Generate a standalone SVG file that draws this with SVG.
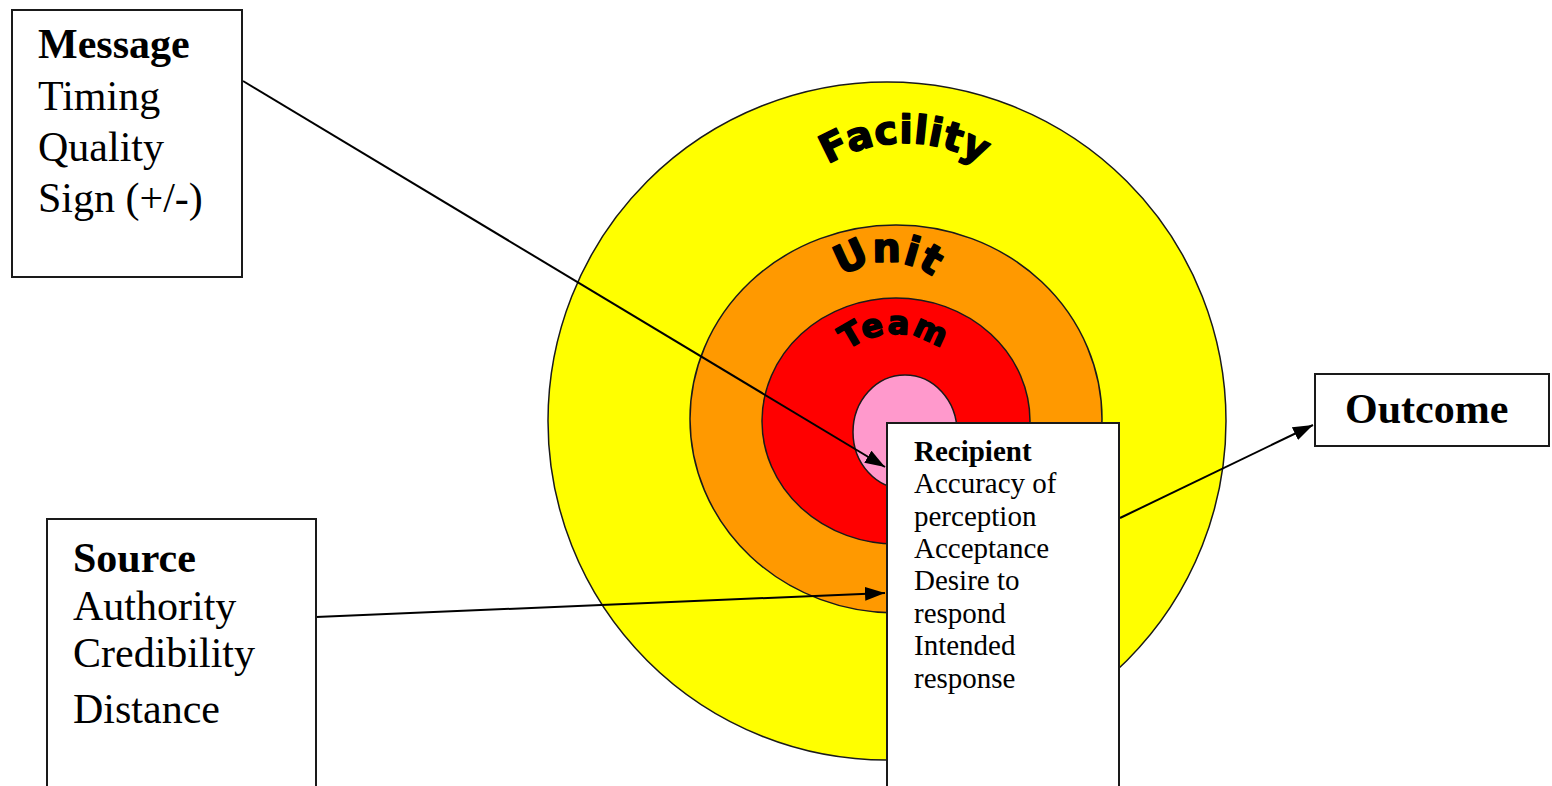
<svg xmlns="http://www.w3.org/2000/svg" width="1552" height="786" viewBox="0 0 1552 786">
  <style>
    .ring { stroke: #1a1a1a; stroke-width: 1.5; }
    .box { fill: #ffffff; stroke: #1a1a1a; stroke-width: 2; }
    .serif { font-family: "Liberation Serif", "Times New Roman", serif; fill: #000; }
    .big { font-size: 42px; }
    .small { font-size: 29px; }
    .bold { font-weight: bold; }
    .arc { font-family: "DejaVu Sans", "Liberation Sans", sans-serif; font-weight: bold; fill: #000; stroke: #000; stroke-width: 1.6; stroke-linejoin: round; }
    .conn { stroke: #000; stroke-width: 2; fill: none; }
  </style>
  <defs>
    <marker id="arrow" markerUnits="userSpaceOnUse" markerWidth="22" markerHeight="16" refX="20" refY="7" orient="auto">
      <path d="M0,0 L20,7 L0,14 z" fill="#000"/>
    </marker>
    <path id="arcFacility" d="M 790.1 196.6 A 150 150 0 0 1 1019.9 196.6"/>
    <path id="arcUnit" d="M 823 299.5 A 75 75 0 0 1 953 299.5"/>
    <path id="arcTeam" d="M 827.5 373 A 78 78 0 0 1 962.5 373"/>
  </defs>

  <rect width="1552" height="786" fill="#ffffff"/>

  <g id="levels">
    <circle class="ring" cx="887" cy="421" r="339" fill="#FFFF00"/>
    <ellipse class="ring" cx="896" cy="419" rx="206" ry="194" fill="#FF9900"/>
    <ellipse class="ring" cx="896" cy="421" rx="134" ry="123" fill="#FF0000"/>
    <ellipse class="ring" cx="905" cy="432" rx="52" ry="57" fill="#FF99CC"/>
    <text class="arc" font-size="39" letter-spacing="0.5"><textPath href="#arcFacility" startOffset="50%" text-anchor="middle">Facility</textPath></text>
    <text class="arc" font-size="40" letter-spacing="1"><textPath href="#arcUnit" startOffset="50%" text-anchor="middle">Unit</textPath></text>
    <text class="arc" font-size="32" letter-spacing="2"><textPath href="#arcTeam" startOffset="50%" text-anchor="middle">Team</textPath></text>
  </g>

  <g id="connectors">
    <line class="conn" x1="243" y1="81" x2="885" y2="467" marker-end="url(#arrow)"/>
    <line class="conn" x1="316" y1="617" x2="885" y2="593" marker-end="url(#arrow)"/>
    <line class="conn" x1="1120" y1="518" x2="1313" y2="425" marker-end="url(#arrow)"/>
  </g>

  <g id="message">
    <rect class="box" x="12" y="10" width="230" height="267"/>
    <text class="serif big bold" x="38" y="58">Message</text>
    <text class="serif big" x="38" y="110">Timing</text>
    <text class="serif big" x="38" y="161">Quality</text>
    <text class="serif big" x="38" y="212">Sign (+/-)</text>
  </g>

  <g id="source">
    <rect class="box" x="47" y="519" width="269" height="280"/>
    <text class="serif big bold" x="73" y="572">Source</text>
    <text class="serif big" x="73" y="620">Authority</text>
    <text class="serif big" x="73" y="667">Credibility</text>
    <text class="serif big" x="73" y="723">Distance</text>
  </g>

  <g id="recipient">
    <rect class="box" x="887" y="423" width="232" height="375"/>
    <text class="serif small bold" x="914" y="461">Recipient</text>
    <text class="serif small" x="914" y="493">Accuracy of</text>
    <text class="serif small" x="914" y="526">perception</text>
    <text class="serif small" x="914" y="558">Acceptance</text>
    <text class="serif small" x="914" y="590">Desire to</text>
    <text class="serif small" x="914" y="623">respond</text>
    <text class="serif small" x="914" y="655">Intended</text>
    <text class="serif small" x="914" y="688">response</text>
  </g>

  <g id="outcome">
    <rect class="box" x="1315" y="374" width="234" height="72"/>
    <text class="serif big bold" x="1345" y="423">Outcome</text>
  </g>
</svg>
